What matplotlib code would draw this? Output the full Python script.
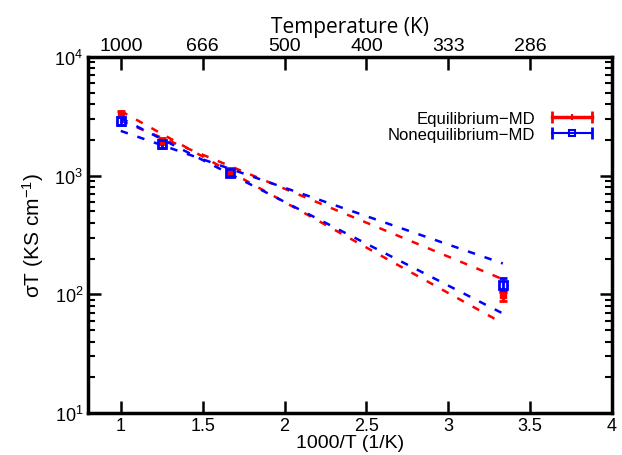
import numpy as np
import matplotlib
matplotlib.use("Agg")
import matplotlib.pyplot as plt
from matplotlib.lines import Line2D
from matplotlib.legend_handler import HandlerLine2D, HandlerTuple
from matplotlib.ticker import FixedLocator, LogLocator, NullFormatter

plt.rcParams['font.family'] = ['Liberation Sans', 'DejaVu Sans']
plt.rcParams['mathtext.fontset'] = 'custom'
plt.rcParams['mathtext.rm'] = 'Liberation Sans'
plt.rcParams['mathtext.it'] = 'Liberation Sans:italic'

# inverse temperature 1000/T (1/K)
inv_T = [1.0, 1.25, 1.667, 3.333]

# sigma*T data
eq_md = [3300, 1970, 1100, 98]
eq_err = [180, 110, 50, 10]
neq_md = [2900, 1850, 1060, 121]
neq_err = [220, 150, 60, 16]

# fitted Arrhenius lines (values at x=1 and x=3.333)
fit_x = [1.0, 3.333]
eq_fit_a = [3500, 57]
eq_fit_b = [2900, 134]
neq_fit_a = [3050, 69]
neq_fit_b = [2380, 182]

top_ticks = [1.0, 1.5, 2.0, 2.5, 3.0, 3.5]
top_labels = ["1000", "666", "500", "400", "333", "286"]

fig = plt.figure(figsize=(6.22, 4.56), dpi=100)
ax = fig.add_axes([0.1415, 0.092, 0.8425, 0.781])

ax.set_yscale("log")
ax.set_xlim(0.8, 4.0)
ax.set_ylim(10, 1e4)

for fit, col in [(eq_fit_a, "red"), (eq_fit_b, "red"),
                 (neq_fit_a, "blue"), (neq_fit_b, "blue")]:
    ax.plot(fit_x, fit, ls=(0, (3, 4)), color=col, lw=1.8)

ax.errorbar(inv_T, eq_md, yerr=eq_err, color="red", marker="s", ms=5,
            lw=2, capsize=3, capthick=2, ls="none")
ax.errorbar(inv_T, neq_md, yerr=neq_err, color="blue", marker="s", ms=6,
            mfc="none", mew=2, lw=2, capsize=3, capthick=2, ls="none")

# legend handles drawn like gnuplot's: horizontal bar with caps
red_caps = Line2D([], [], color="red", lw=2.5, marker="|", ms=9, mew=2)
red_mid = Line2D([], [], color="red", lw=0, marker="|", ms=5, mew=1.5)
blue_caps = Line2D([], [], color="blue", lw=1.5, marker="|", ms=9, mew=2)
blue_mid = Line2D([], [], color="blue", lw=0, marker="s", ms=5, mfc="none", mew=1.5)
hmap = {red_caps: HandlerLine2D(numpoints=2), red_mid: HandlerLine2D(numpoints=1),
        blue_caps: HandlerLine2D(numpoints=2), blue_mid: HandlerLine2D(numpoints=1),
        tuple: HandlerTuple(ndivide=1, pad=0)}

ax.set_xticks([1, 1.5, 2, 2.5, 3, 3.5, 4])
ax.set_xticklabels(["1", "1.5", "2", "2.5", "3", "3.5", "4"])
ax.yaxis.set_major_locator(LogLocator(base=10, numticks=10))
ax.yaxis.set_minor_locator(LogLocator(base=10, subs=np.arange(2, 10), numticks=10))
ax.yaxis.set_minor_formatter(NullFormatter())

ax.tick_params(axis="both", which="major", direction="in", length=9, width=1.8,
               labelsize=13, right=True, top=False)
ax.tick_params(axis="y", which="minor", direction="in", length=5, width=1.5,
               right=True)
ax.tick_params(axis="x", which="major", labelsize=13, pad=3)
for s in ax.spines.values():
    s.set_linewidth(2.5)

ax2 = ax.twiny()
ax2.set_xlim(ax.get_xlim())
ax2.xaxis.set_major_locator(FixedLocator(top_ticks))
ax2.set_xticklabels(top_labels, fontsize=14)
ax2.tick_params(axis="x", direction="in", length=9, width=1.8, pad=2)
ax2.set_xlabel("Temperature (K)", fontsize=15, family=["Open Sans", "DejaVu Sans"],
               labelpad=4)

ax.set_xlabel("1000/T (1/K)", fontsize=14, labelpad=0)
ax.set_ylabel("σT (KS cm$^{-1}$)", fontsize=15, labelpad=6)

ax.legend([(red_caps, red_mid), (blue_caps, blue_mid)],
          ["Equilibrium\u2212MD", "Nonequilibrium\u2212MD"],
          handler_map=hmap, loc="upper right", bbox_to_anchor=(1.0, 0.89),
          frameon=False, markerfirst=False, fontsize=12, handlelength=3.0,
          labelspacing=0.05, handletextpad=0.7)

fig.savefig("out.png", dpi=100)
